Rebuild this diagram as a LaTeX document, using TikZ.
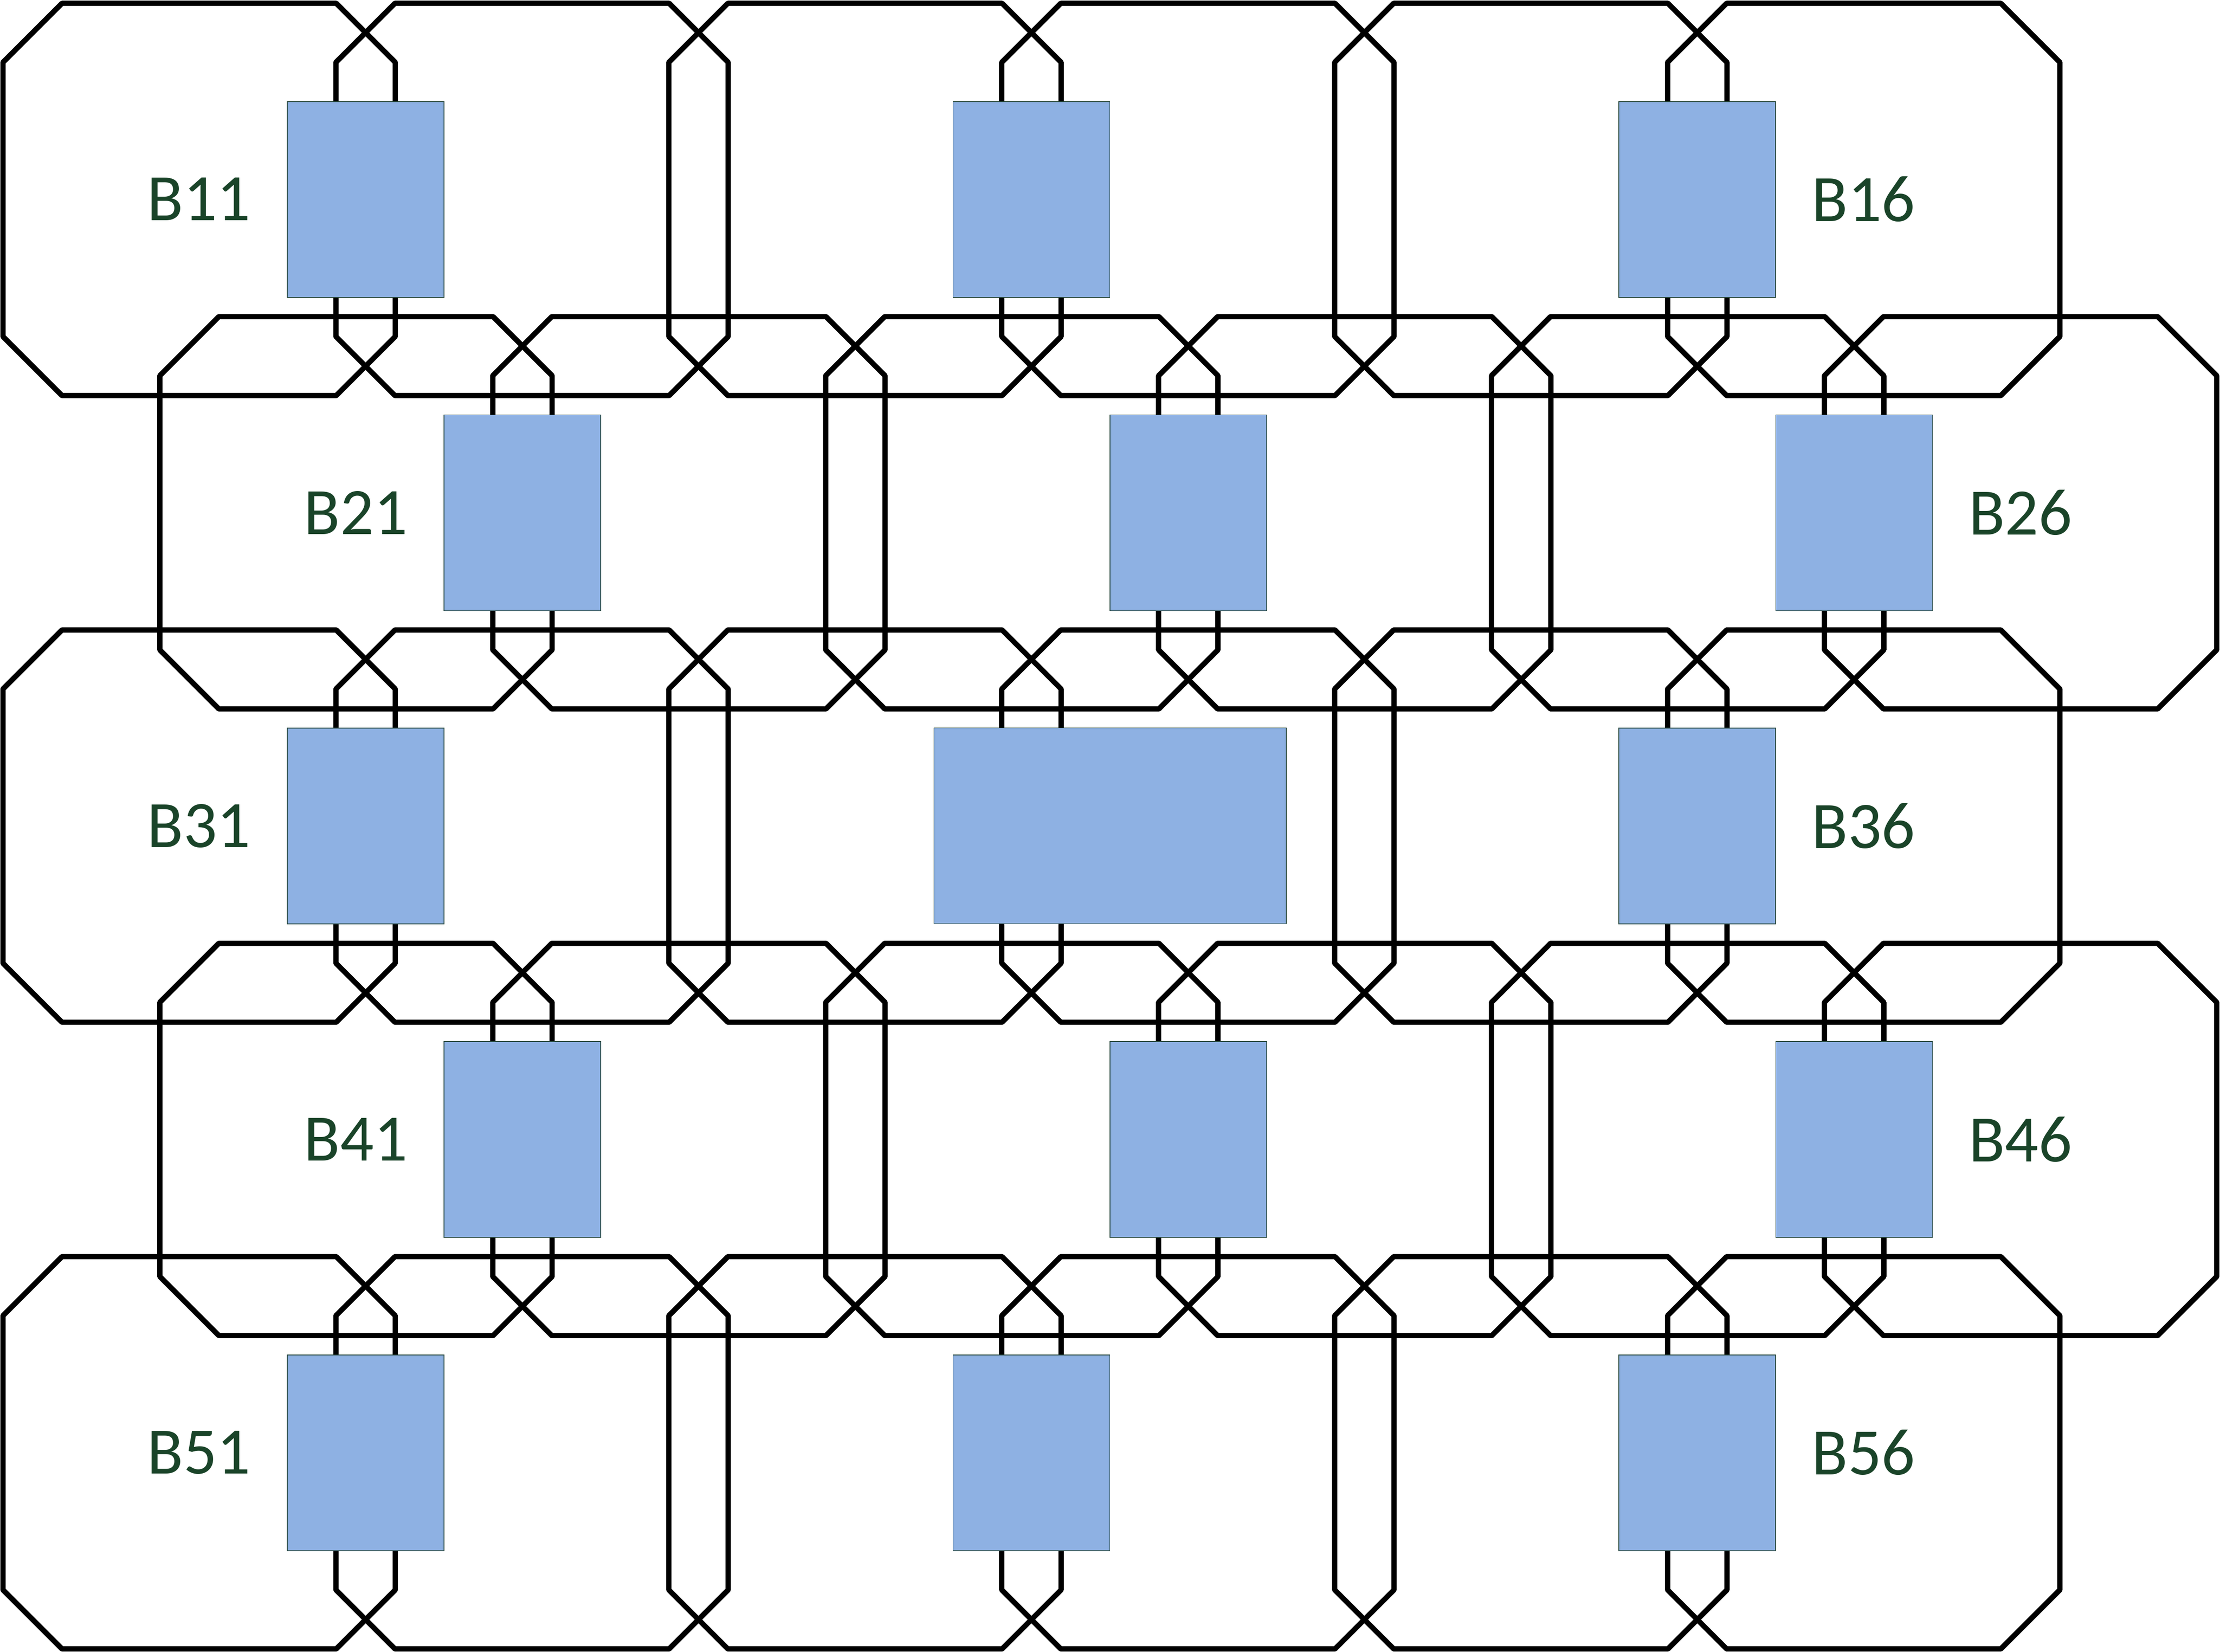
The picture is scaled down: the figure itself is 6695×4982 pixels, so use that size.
\documentclass[tikz,border=0pt]{standalone}
\usepackage{fontspec}
\setmainfont{Carlito}
\definecolor{boxfill}{HTML}{8EB1E3}
\definecolor{boxedge}{HTML}{2A4A40}
\definecolor{lblgreen}{HTML}{1A4429}
\newfontfamily\lblfont{Carlito}
\tikzset{
  ring/.style={line width=0.08cm, black, line join=round, line cap=round},
  blk/.style={draw=boxedge, line width=0.012cm, fill=boxfill, inner sep=0pt,
    minimum width=2.365cm, minimum height=2.955cm},
  wideblk/.style={blk, minimum width=5.315cm},
  lbl/.style={text=lblgreen, font=\lblfont\fontsize{28.5pt}{30pt}\selectfont, inner sep=0pt}
}
\begin{document}
\begin{tikzpicture}[x=0.005cm, y=-0.005cm]
\useasboundingbox (0,0) rectangle (6695,4982);
% octagonal rings
\foreach \r in {0,...,4} {
  \pgfmathsetmacro{\T}{10+945*\r}
  \pgfmathsetmacro{\off}{ifthenelse(mod(\r,2)==1,473,0)}
  \foreach \k in {0,...,5} {
    \pgfmathsetmacro{\L}{9+\off+1004*\k}
    \draw[ring] ({\L+178},{\T}) -- ({\L+1005},{\T}) -- ({\L+1183},{\T+178})
      -- ({\L+1183},{\T+1005}) -- ({\L+1005},{\T+1183}) -- ({\L+178},{\T+1183})
      -- ({\L},{\T+1005}) -- ({\L},{\T+178}) -- cycle;
  }
}
% blue blocks
\foreach \r in {0,...,4} {
  \pgfmathsetmacro{\Y}{601.5+945*\r}
  \pgfmathsetmacro{\off}{ifthenelse(mod(\r,2)==1,473,0)}
  \foreach \j in {1,3,5} {
    \ifnum\r=2 \ifnum\j=3 \else
      \node[blk] (b\r\j) at ({98.5+\off+1004*\j},{\Y}) {};
    \fi\else
      \node[blk] (b\r\j) at ({98.5+\off+1004*\j},{\Y}) {};
    \fi
  }
}
\node[wideblk] (b23) at (3347.5,2490.5) {};
% labels
\node[lbl] (B11) at (600,601) {B11};
\node[lbl] (B16) at (5620,601) {B16};
\node[lbl] (B21) at (1073,1546) {B21};
\node[lbl] (B26) at (6093,1546) {B26};
\node[lbl] (B31) at (600,2491) {B31};
\node[lbl] (B36) at (5620,2491) {B36};
\node[lbl] (B41) at (1073,3436) {B41};
\node[lbl] (B46) at (6093,3436) {B46};
\node[lbl] (B51) at (600,4381) {B51};
\node[lbl] (B56) at (5620,4381) {B56};
\end{tikzpicture}
\end{document}
